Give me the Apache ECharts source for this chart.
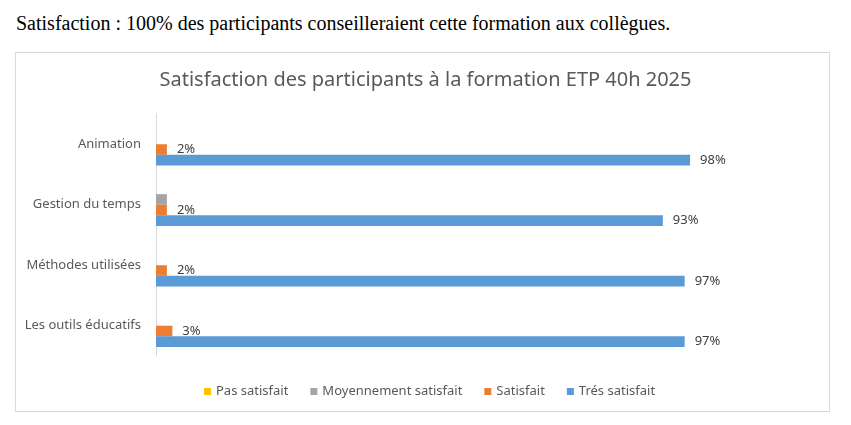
<!DOCTYPE html>
<html>
<head>
<meta charset="utf-8">
<script src="https://cdn.jsdelivr.net/npm/echarts@6/dist/echarts.min.js"></script>
<style>
  html, body { margin: 0; padding: 0; background: #fff; }
  #intro { position: absolute; left: 16px; top: 12px; margin: 0; font-family: "Liberation Serif", "Times New Roman", serif; font-size: 20px; color: #000; white-space: nowrap; }
  #box { position: absolute; left: 15px; top: 52px; width: 813px; height: 358px; border: 1px solid #d9d9d9; }
  #chart { position: absolute; left: 0; top: 0; width: 851px; height: 425px; }
</style>
</head>
<body>
<p id="intro">Satisfaction : 100% des participants conseilleraient cette formation aux collègues.</p>
<div id="box"></div>
<div id="chart"></div>
<script>
var categories = ['Animation', 'Gestion du temps', 'Méthodes utilisées', 'Les outils éducatifs'];
var seriesNames = ['Pas satisfait', 'Moyennement satisfait', 'Satisfait', 'Trés satisfait'];
var pasSatisfait = [0, 0, 0, 0];
var moyennement = [0, 2, 0, 0];
var satisfait = [2, 2, 2, 3];
var tresSatisfait = [98, 93, 97, 97];
var colors = ['#FFC000', '#A5A5A5', '#ED7D31', '#5B9BD5'];

var chart = echarts.init(document.getElementById('chart'));

function makeSeries(name, data, color, showLabel) {
  return {
    name: name,
    type: 'bar',
    data: data,
    barGap: '0%',
    barCategoryGap: '30%',
    itemStyle: { color: color },
    label: {
      show: showLabel,
      position: 'right',
      distance: 10,
      formatter: '{c}%',
      color: '#404040',
      fontFamily: 'Noto Sans',
      fontSize: 13
    },
    animation: false
  };
}

chart.setOption({
  title: {
    text: 'Satisfaction des participants à la formation ETP 40h 2025',
    left: 'center',
    top: 65,
    textStyle: { fontFamily: 'Noto Sans', fontSize: 20, fontWeight: 'normal', color: '#595959' }
  },
  legend: {
    data: seriesNames,
    top: 380,
    left: 199,
    icon: 'rect',
    itemWidth: 7,
    itemHeight: 7,
    itemGap: 22,
    textStyle: { fontFamily: 'Noto Sans', fontSize: 13, color: '#595959' }
  },
  grid: { left: 156, top: 114, width: 545, height: 242 },
  xAxis: {
    type: 'value',
    min: 0,
    max: 100,
    show: false
  },
  yAxis: {
    type: 'category',
    data: categories,
    inverse: true,
    axisLine: { lineStyle: { color: '#d9d9d9' } },
    axisTick: { show: false },
    axisLabel: { margin: 15, fontFamily: 'Noto Sans', fontSize: 13, color: '#595959' }
  },
  series: [
    makeSeries(seriesNames[0], pasSatisfait, colors[0], false),
    makeSeries(seriesNames[1], moyennement, colors[1], false),
    makeSeries(seriesNames[2], satisfait, colors[2], true),
    makeSeries(seriesNames[3], tresSatisfait, colors[3], true)
  ]
});
</script>
</body>
</html>
